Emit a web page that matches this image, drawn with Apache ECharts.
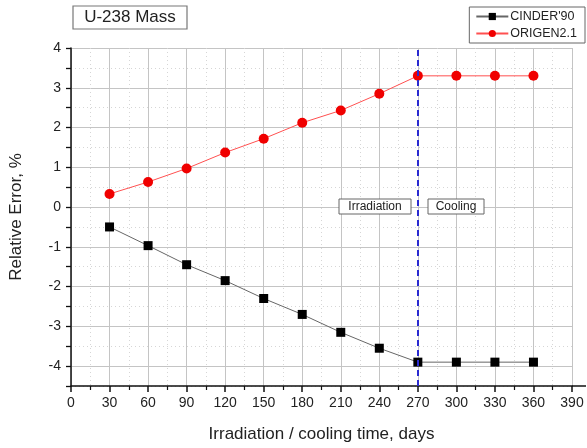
<!DOCTYPE html>
<html>
<head>
<meta charset="utf-8">
<script src="https://cdn.jsdelivr.net/npm/echarts@6/dist/echarts.min.js"></script>
<style>
  html, body { margin: 0; padding: 0; background: #fff; }
  #chart { width: 587px; height: 448px; }
</style>
</head>
<body>
<div id="chart"></div>
<script>
// datos
const days = [30, 60, 90, 120, 150, 180, 210, 240, 270, 300, 330, 360]
const cinder90 = [-0.5, -0.97, -1.45, -1.85, -2.3, -2.7, -3.15, -3.55, -3.9, -3.9, -3.9, -3.9]
const origen21 = [0.33, 0.63, 0.97, 1.37, 1.72, 2.12, 2.43, 2.85, 3.3, 3.3, 3.3, 3.3]
const boundaryDay = 270
const xTicks = { min: 0, max: 390, step: 30 }
const yTicks = { min: -4.5, max: 4, step: 0.5 }

const font = 'Liberation Sans'
const chart = echarts.init(document.getElementById('chart'))

const pairs = vals => days.map((d, i) => [d, vals[i]])

const option = {
  animation: false,
  grid: { left: 68, right: 15, top: 48, bottom: 62 },
  legend: {
    orient: 'vertical',
    right: 2,
    top: 7,
    padding: [3, 8, 3, 6],
    itemGap: 4,
    itemWidth: 32,
    itemHeight: 9,
    borderColor: '#666',
    borderWidth: 1,
    textStyle: { fontFamily: font, fontSize: 12.5, color: '#222', padding: [0, 0, 0, -3] },
    data: ["CINDER'90", 'ORIGEN2.1']
  },
  xAxis: [{
    type: 'value',
    min: xTicks.min,
    max: xTicks.max,
    interval: xTicks.step,
    name: 'Irradiation / cooling time, days',
    nameLocation: 'middle',
    nameGap: 40,
    nameTextStyle: { fontFamily: font, fontSize: 17, color: '#222' },
    axisLine: { onZero: false, lineStyle: { color: '#111', width: 1.5 } },
    axisTick: { length: 6, lineStyle: { color: '#111', width: 1.5 } },
    minorTick: { show: true, splitNumber: 2, length: 4, lineStyle: { color: '#111', width: 1.2 } },
    axisLabel: { fontFamily: font, fontSize: 14, color: '#222', margin: 10 },
    splitLine: { show: true, lineStyle: { color: '#c4c4c4', width: 1 } },
    minorSplitLine: { show: true, lineStyle: { color: '#d6d6d6', type: [1, 3], width: 1 } }
  }],
  yAxis: [{
    type: 'value',
    min: yTicks.min,
    max: yTicks.max,
    interval: yTicks.step,
    name: 'Relative Error, %',
    nameLocation: 'middle',
    nameGap: 46,
    nameTextStyle: { fontFamily: font, fontSize: 17, color: '#222' },
    axisLine: { lineStyle: { color: '#111', width: 1.5 } },
    axisTick: { length: 5, lineStyle: { color: '#111', width: 1.3 } },
    axisLabel: {
      fontFamily: font, fontSize: 14, color: '#222', margin: 10,
      formatter: v => Number.isInteger(v) && v !== yTicks.min ? String(v) : ''
    },
    // líneas sólidas en enteros, transparentes en medios
    splitLine: { show: true, lineStyle: { color: ['rgba(0,0,0,0)', '#c4c4c4'], width: 1 } }
  }, {
    type: 'value',
    min: yTicks.min,
    max: yTicks.max,
    interval: yTicks.step,
    position: 'left',
    axisLine: { show: false },
    axisTick: { show: false },
    axisLabel: { show: false },
    splitLine: { show: true, lineStyle: { color: ['#d6d6d6', 'rgba(0,0,0,0)'], type: [1, 3], width: 1 } }
  }],
  graphic: [
    {
      type: 'line', z: 100, shape: { x1: 572, y1: 386, x2: 586, y2: 386 },
      style: { stroke: '#111', lineWidth: 1.5 }
    },
    {
      type: 'rect', z: 100, shape: { x: 73, y: 6, width: 114, height: 23 },
      style: { fill: '#fff', stroke: '#777', lineWidth: 1.2 }
    },
    {
      type: 'text', z: 101, x: 130, y: 17,
      style: { text: 'U-238 Mass', font: '17px "Liberation Sans"', fill: '#222', align: 'center', verticalAlign: 'middle' }
    },
    {
      type: 'rect', z: 100, shape: { x: 339, y: 199, width: 72, height: 15 },
      style: { fill: '#fff', stroke: '#666', lineWidth: 1 }
    },
    {
      type: 'text', z: 101, x: 375, y: 207,
      style: { text: 'Irradiation', font: '12px "Liberation Sans"', fill: '#222', align: 'center', verticalAlign: 'middle' }
    },
    {
      type: 'rect', z: 100, shape: { x: 428, y: 199, width: 56, height: 15 },
      style: { fill: '#fff', stroke: '#666', lineWidth: 1 }
    },
    {
      type: 'text', z: 101, x: 456, y: 207,
      style: { text: 'Cooling', font: '12px "Liberation Sans"', fill: '#222', align: 'center', verticalAlign: 'middle' }
    }
  ],
  series: [
    {
      name: "CINDER'90",
      type: 'line',
      data: pairs(cinder90),
      symbol: 'rect',
      symbolSize: 9,
      itemStyle: { color: '#000' },
      lineStyle: { color: '#666', width: 1 },
      z: 3,
      markLine: {
        silent: true,
        symbol: 'none',
        label: { show: false },
        lineStyle: { color: '#2a2ad0', type: [6, 4], width: 2 },
        data: [{ xAxis: boundaryDay }]
      }
    },
    {
      name: 'ORIGEN2.1',
      type: 'line',
      data: pairs(origen21),
      symbol: 'circle',
      symbolSize: 10,
      itemStyle: { color: '#f00000' },
      lineStyle: { color: '#ff5050', width: 1 },
      z: 3
    }
  ]
}

chart.setOption(option)
</script>
</body>
</html>
